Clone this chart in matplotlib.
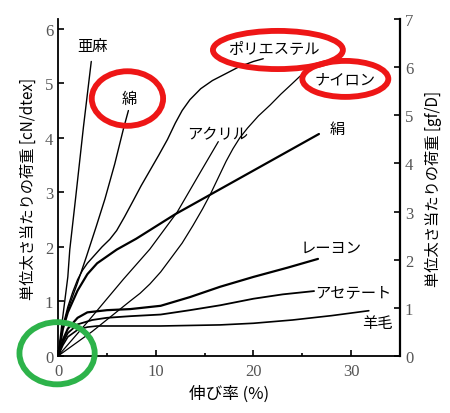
import matplotlib
matplotlib.use("Agg")
import matplotlib.pyplot as plt
from matplotlib.patches import Ellipse

# stress-strain curves of fibres
# strain (%) and load (cN/dtex)
flax_x = [0, 0.4, 1.0, 1.2, 1.8, 2.6, 3.4]
flax_y = [0, 0.6, 1.45, 1.95, 2.9, 4.2, 5.4]

cotton_x = [0, 0.4, 1.0, 1.95, 2.9, 3.9, 4.8, 5.8, 6.7, 7.2]
cotton_y = [0, 0.45, 0.85, 1.32, 1.82, 2.37, 2.88, 3.52, 4.17, 4.5]

polyester_x = [0, 0.5, 1.0, 1.5, 2.0, 2.5, 3.0, 3.8, 4.5, 5.3, 6.0, 6.8, 7.7, 8.5, 9.4,
               10.3, 11.2, 12.0, 12.7, 13.5, 14.6, 15.8, 17.1, 18.5, 20.0, 21.0]
polyester_y = [0, 0.55, 0.9, 1.17, 1.4, 1.57, 1.7, 1.86, 2.0, 2.14, 2.3, 2.55, 2.85, 3.12, 3.4,
               3.68, 3.97, 4.27, 4.5, 4.7, 4.9, 5.05, 5.17, 5.3, 5.4, 5.45]

nylon_x = [0, 3.5, 7.4, 8.4, 9.4, 10.5, 11.5, 12.7, 13.8, 14.8, 15.6, 16.4, 17.2, 17.9,
           18.6, 19.4, 20.5, 21.7, 22.8, 24.0, 25.0]
nylon_y = [0, 0.45, 1.01, 1.15, 1.32, 1.54, 1.78, 2.07, 2.39, 2.7, 2.97, 3.27, 3.57, 3.8,
           4.0, 4.18, 4.4, 4.6, 4.8, 5.0, 5.17]

acrylic_x = [0, 3.0, 6.7, 9.4, 12.2, 14.6, 16.4]
acrylic_y = [0, 0.62, 1.41, 1.96, 2.64, 3.38, 3.93]

silk_x = [0, 0.5, 1.0, 2.0, 3.0, 4.0, 6.0, 8.0, 12.0, 16.0, 20.0, 26.7]
silk_y = [0, 0.5, 0.8, 1.2, 1.5, 1.7, 1.95, 2.15, 2.6, 3.0, 3.4, 4.07]

rayon_x = [0, 0.5, 1.0, 2.0, 3.0, 5.0, 7.4, 10.5, 13.5, 16.6, 20.0, 23.5, 26.6]
rayon_y = [0, 0.3, 0.5, 0.7, 0.8, 0.84, 0.86, 0.92, 1.08, 1.27, 1.45, 1.62, 1.78]

acetate_x = [0, 0.5, 1.0, 2.0, 3.5, 5.0, 7.4, 10.5, 13.5, 16.6, 20.0, 23.0, 26.2]
acetate_y = [0, 0.25, 0.42, 0.58, 0.66, 0.7, 0.73, 0.76, 0.84, 0.93, 1.05, 1.13, 1.19]

wool_x = [0, 0.5, 1.0, 2.0, 3.0, 4.0, 7.4, 10.5, 16.6, 20.0, 24.0, 28.0, 31.8]
wool_y = [0, 0.2, 0.35, 0.48, 0.53, 0.55, 0.55, 0.55, 0.57, 0.6, 0.66, 0.74, 0.83]

names = ["亜麻", "綿", "ポリエステル", "ナイロン", "アクリル", "絹", "レーヨン", "アセテート", "羊毛"]
label_x = [3.5, 7.3, 22.1, 29.4, 16.3, 28.6, 27.9, 30.2, 32.7]
label_y = [5.69, 4.72, 5.63, 5.08, 4.07, 4.17, 2.0, 1.19, 0.62]

x_ticks = [0, 10, 20, 30]
left_ticks = [0, 1, 2, 3, 4, 5, 6]
right_ticks = [0, 1, 2, 3, 4, 5, 6, 7]

jp = ["Noto Sans CJK JP", "DejaVu Sans"]
num = "Liberation Serif"

fig = plt.figure(figsize=(4.5, 4.14), dpi=100)
ax = fig.add_axes([0.129, 0.1377, 0.76, 0.814])

curves = [(flax_x, flax_y, 1.0), (cotton_x, cotton_y, 1.0),
          (polyester_x, polyester_y, 1.0), (nylon_x, nylon_y, 0.9),
          (acrylic_x, acrylic_y, 0.9), (silk_x, silk_y, 1.6),
          (rayon_x, rayon_y, 1.6), (acetate_x, acetate_y, 1.3),
          (wool_x, wool_y, 1.2)]
for xs, ys, lw in curves:
    ax.plot(xs, ys, color="black", lw=lw, solid_capstyle="round", solid_joinstyle="round")

for name, lx, ly in zip(names, label_x, label_y):
    ax.text(lx, ly, name, family=jp, fontsize=11, ha="center", va="center")

ax.set_xlim(0, 35)
ax.set_ylim(0, 7 * 0.8826)
ax.set_xticks(x_ticks)
ax.set_xticks([5, 15, 25], minor=True)
ax.set_yticks(left_ticks)
ax.tick_params(axis="x", which="major", direction="in", length=4, width=1.2, pad=5)
ax.tick_params(axis="x", which="minor", direction="in", length=2.5, width=1.2)
ax.tick_params(axis="y", direction="in", length=4.5, width=1.2)
ax.tick_params(labelsize=12, labelcolor="#555555")
for t in ax.get_xticklabels() + ax.get_yticklabels():
    t.set_family(num)
ax.spines["top"].set_visible(False)
ax.spines["right"].set_visible(False)
ax.spines["left"].set_linewidth(1.3)
ax.spines["bottom"].set_linewidth(1.3)

ax.set_xlabel("伸び率 (%)", family=jp, fontsize=12, labelpad=4)
ax.set_ylabel("単位太さ当たりの荷重 [cN/dtex]", family=jp, fontsize=11, labelpad=6)

ax2 = ax.twinx()
ax2.set_ylim(0, 7)
ax2.set_yticks(right_ticks)
ax2.tick_params(axis="y", direction="in", length=4.5, width=1.2,
                labelsize=12, labelcolor="#555555")
for t in ax2.get_yticklabels():
    t.set_family(num)
ax2.spines["top"].set_visible(False)
ax2.spines["left"].set_visible(False)
ax2.spines["bottom"].set_visible(False)
ax2.spines["right"].set_linewidth(1.6)
ax2.set_ylabel("単位太さ当たりの荷重 [gf/D]", family=jp, fontsize=11, labelpad=8)

# highlight rings
red = "#ee1616"
rings = [((7.1, 4.72), 7.3, 1.0, red),
         ((22.5, 5.61), 13.3, 0.70, red),
         ((29.4, 5.08), 8.8, 0.66, red),
         ((-0.1, 0.05), 7.7, 1.14, "#2db34a")]
for c, w, h, col in rings:
    ax.add_patch(Ellipse(c, w, h, fill=False, ec=col, lw=4.2, clip_on=False, zorder=5))

fig.savefig("out.png", dpi=100)
